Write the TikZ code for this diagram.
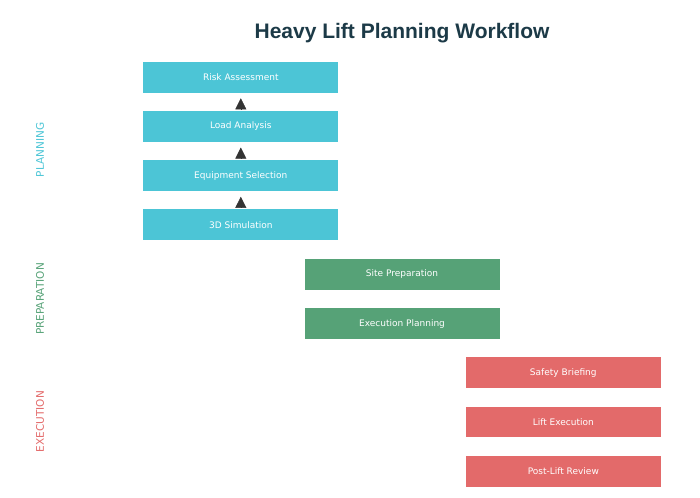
\documentclass[tikz,border=0pt]{standalone}
\usepackage{fontspec}
\setmainfont{DejaVu Sans}
\newfontfamily\titlefont{Liberation Sans}
\usetikzlibrary{arrows.meta}
\definecolor{plancol}{HTML}{4CC5D6}
\definecolor{prepcol}{HTML}{56A277}
\definecolor{execcol}{HTML}{E36A6A}
\definecolor{titlecol}{HTML}{1C3A47}
\definecolor{tipcol}{HTML}{333333}
\tikzset{
  stepbox/.style={rectangle, minimum width=195pt, minimum height=30.7pt, inner sep=0pt,
    text=white, font=\fontsize{9}{11}\selectfont},
  planbox/.style={stepbox, fill=plancol},
  prepbox/.style={stepbox, fill=prepcol},
  execbox/.style={stepbox, fill=execcol},
  phaselabel/.style={rotate=90, font=\fontsize{10.5}{12}\selectfont, inner sep=0pt},
  uparrow/.style={draw=tipcol, line width=0.4pt, -{Triangle[width=11pt,length=11pt]}, fill=tipcol,
    shorten <=2pt, shorten >=5.6pt},
}
\begin{document}
\begin{tikzpicture}[x=1pt,y=-1pt]
\useasboundingbox (0,0) rectangle (700,497);
\node[anchor=base, font=\titlefont\bfseries\fontsize{21}{24}\selectfont, text=titlecol, inner sep=0pt] (title) at (402,38.3) {Heavy Lift Planning Workflow};

\node[planbox] (risk) at (240.8,77.2) {Risk Assessment};
\node[planbox] (load) at (240.8,126.4) {Load Analysis};
\node[planbox] (equip) at (240.8,175.6) {Equipment Selection};
\node[planbox] (sim) at (240.8,224.8) {3D Simulation};

\node[prepbox] (site) at (402,274.3) {Site Preparation};
\node[prepbox] (plan) at (402,323.6) {Execution Planning};

\node[execbox] (brief) at (563.3,372.7) {Safety Briefing};
\node[execbox] (lift) at (563.3,422) {Lift Execution};
\node[execbox] (review) at (563.3,471.3) {Post-Lift Review};

\draw[uparrow] (load.north) -- (risk.south);
\draw[uparrow] (equip.north) -- (load.south);
\draw[uparrow] (sim.north) -- (equip.south);

\node[phaselabel, text=plancol] (lplan) at (40,150) {PLANNING};
\node[phaselabel, text=prepcol] (lprep) at (40,299) {PREPARATION};
\node[phaselabel, text=execcol] (lexec) at (40,421.5) {EXECUTION};
\end{tikzpicture}
\end{document}
